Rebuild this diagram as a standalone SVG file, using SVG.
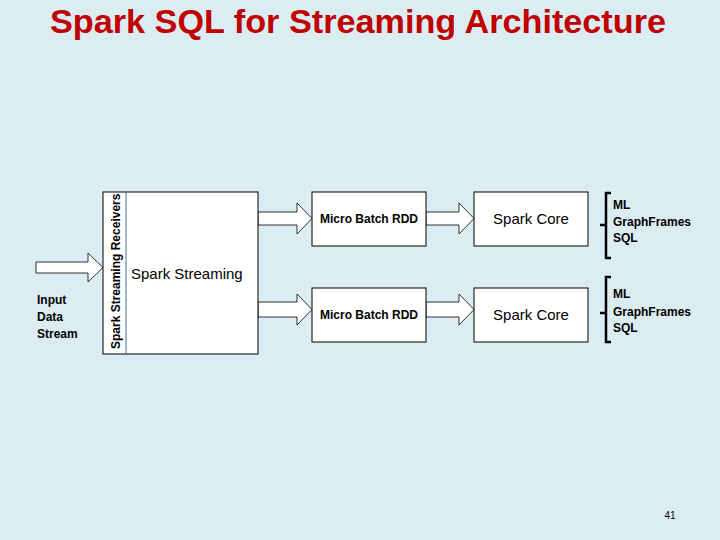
<svg xmlns="http://www.w3.org/2000/svg" width="720" height="540" viewBox="0 0 720 540">
<style>
.box{fill:#fff;stroke:#000;stroke-width:1}
.arr{fill:#fff;stroke:#000;stroke-width:0.8}
.t{font-family:"Liberation Sans",Arial,sans-serif;fill:#000}
.b{font-weight:bold;font-size:12px}
.br{fill:none;stroke:#000;stroke-width:2.5}
</style>
<rect width="720" height="540" fill="#dbedf3"/>
<text x="358" y="33" text-anchor="middle" class="t" style="font-size:33px;font-weight:bold;fill:#c00000" textLength="616" lengthAdjust="spacingAndGlyphs">Spark SQL for Streaming Architecture</text>
<g id="connectors">
<path class="arr" d="M36,262 H88 V253 L103,267.5 L88,282 V273 H36 Z"/>
<path class="arr" d="M258,212 H297 V203 L312,218.5 L297,234 V225 H258 Z"/>
<path class="arr" d="M258,302 H297 V294 L312,309.5 L297,325 V317 H258 Z"/>
<path class="arr" d="M426,212 H459 V203 L474,218.5 L459,234 V225 H426 Z"/>
<path class="arr" d="M426,302 H459 V294 L474,309.5 L459,325 V317 H426 Z"/>
</g>
<g id="input"><text class="t b" x="37" y="304">Input</text><text class="t b" x="37" y="321">Data</text><text class="t b" x="37" y="338">Stream</text></g>
<g id="spark-streaming">
<rect class="box" x="103" y="192" width="155" height="162"/>
<line x1="126" y1="192" x2="126" y2="354" stroke="#4a6d8c" stroke-width="1"/>
<text class="t b" transform="translate(120,349) rotate(-90)">Spark Streaming Receivers</text>
<text class="t" x="131" y="279" font-size="15">Spark Streaming</text>
</g>
<g id="mb1"><rect class="box" x="312" y="192" width="114" height="54"/><text class="t b" x="369" y="223" text-anchor="middle">Micro Batch RDD</text></g>
<g id="mb2"><rect class="box" x="312" y="288" width="114" height="54"/><text class="t b" x="369" y="319" text-anchor="middle">Micro Batch RDD</text></g>
<g id="sc1"><rect class="box" x="474" y="192" width="114" height="54"/><text class="t" x="531" y="224" text-anchor="middle" font-size="15">Spark Core</text></g>
<g id="sc2"><rect class="box" x="474" y="288" width="114" height="54"/><text class="t" x="531" y="320" text-anchor="middle" font-size="15">Spark Core</text></g>
<g id="lib1"><path class="br" d="M611,193 H606 V258 H611 M606,225 H600"/>
<text class="t b" x="613" y="209">ML</text><text class="t b" x="613" y="226">GraphFrames</text><text class="t b" x="613" y="242">SQL</text></g>
<g id="lib2"><path class="br" d="M611,277 H606 V342 H611 M606,313 H600"/>
<text class="t b" x="613" y="298">ML</text><text class="t b" x="613" y="316">GraphFrames</text><text class="t b" x="613" y="332">SQL</text></g>
<text class="t" x="670" y="519" font-size="10" fill="#777" text-anchor="middle">41</text>
</svg>
